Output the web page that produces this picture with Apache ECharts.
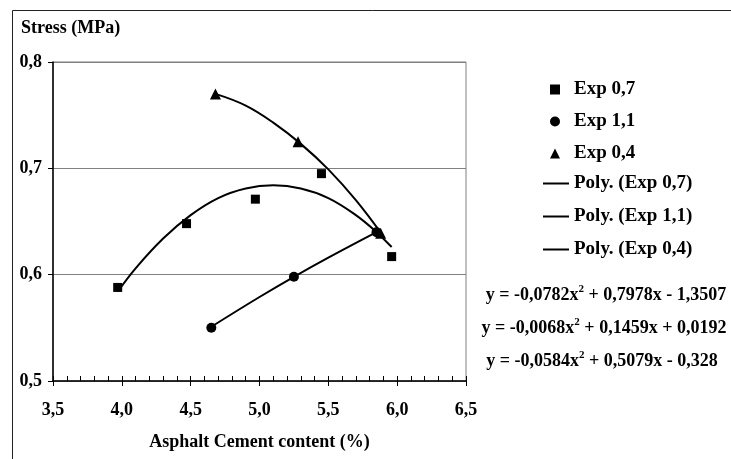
<!DOCTYPE html>
<html>
<head>
<meta charset="utf-8">
<script src="https://cdn.jsdelivr.net/npm/echarts@6/dist/echarts.min.js"></script>
<style>html,body{margin:0;padding:0;background:#fff}#c{width:731px;height:459px}</style>
</head>
<body>
<div id="c"></div>
<script>
// Measured points
const exp07X = [3.97, 4.47, 4.97, 5.45, 5.96];
const exp07Y = [0.588, 0.648, 0.671, 0.695, 0.617];
const exp11X = [4.65, 5.25, 5.85];
const exp11Y = [0.550, 0.598, 0.640];
const exp04X = [4.68, 5.28, 5.88];
const exp04Y = [0.770, 0.725, 0.639];
// Trendline points
const poly07X = [3.97, 4.1, 4.3, 4.5, 4.7, 4.9, 5.1, 5.3, 5.5, 5.7, 5.85, 5.96];
const poly07Y = [0.584, 0.606, 0.634, 0.656, 0.672, 0.681, 0.684, 0.681, 0.672, 0.656, 0.640, 0.626];
const poly11X = [4.65, 5.0, 5.25, 5.5, 5.85];
const poly11Y = [0.551, 0.579, 0.598, 0.616, 0.640];
const poly04X = [4.68, 4.9, 5.1, 5.3, 5.5, 5.7, 5.9];
const poly04Y = [0.770, 0.759, 0.743, 0.723, 0.699, 0.670, 0.636];
// Texts
const seriesNames = ['Exp 0,7', 'Exp 1,1', 'Exp 0,4', 'Poly. (Exp 0,7)', 'Poly. (Exp 1,1)', 'Poly. (Exp 0,4)'];
const equations = [
  ['y = -0,0782x', ' + 0,7978x - 1,3507'],
  ['y = -0,0068x', ' + 0,1459x + 0,0192'],
  ['y = -0,0584x', ' + 0,5079x - 0,328']
];
const xTitle = 'Asphalt Cement content (%)';
const yTitle = 'Stress (MPa)';

const F = 'Liberation Serif';
const zip = (xs, ys) => xs.map((x, i) => [x, ys[i]]);
const comma = (v) => v.toFixed(1).replace('.', ',');

const eqX = [606, 604, 602];
const eqY = [295, 328, 361];
const richStyle = {
  a: {fontSize: 18, fontFamily: F, fontWeight: 'bold', fill: '#000', lineHeight: 22},
  b: {fontSize: 11, fontFamily: F, fontWeight: 'bold', fill: '#000', lineHeight: 12, verticalAlign: 'top'}
};
const lblStyle = {fontFamily: F, fontWeight: 'bold', fontSize: 18, color: '#000'};

const chart = echarts.init(document.getElementById('c'), null, {renderer: 'canvas'});
chart.setOption({
  animation: false,
  backgroundColor: '#fff',
  title: {
    text: yTitle, left: 21, top: 19, padding: 0,
    textStyle: lblStyle
  },
  grid: {left: 53, right: 265, top: 62, bottom: 78, show: true, borderColor: '#808080', borderWidth: 1, backgroundColor: 'transparent'},
  legend: [
    {
      data: seriesNames.slice(0, 3), orient: 'vertical', left: 550, top: 80,
      itemWidth: 10, itemHeight: 10, itemGap: 13, padding: 0,
      itemStyle: {opacity: 1},
      textStyle: {fontFamily: F, fontWeight: 'bold', fontSize: 19, color: '#000', lineHeight: 18, padding: [0, 0, 0, 9]}
    },
    {
      data: seriesNames.slice(3), orient: 'vertical', left: 543, top: 174,
      icon: 'rect', itemWidth: 26, itemHeight: 2, itemGap: 14, padding: 0,
      textStyle: {fontFamily: F, fontWeight: 'bold', fontSize: 19, color: '#000', lineHeight: 18}
    }
  ],
  xAxis: [
    {
      type: 'value', min: 3.5, max: 6.5, interval: 0.5,
      name: xTitle, nameLocation: 'middle', nameGap: 52,
      nameTextStyle: lblStyle,
      axisLine: {show: true, onZero: false, lineStyle: {color: '#000', width: 1.5}},
      axisTick: {show: true, inside: true, length: 5, lineStyle: {color: '#000'}},
      minorTick: {show: true, splitNumber: 5, length: 5, lineStyle: {color: '#000'}},
      axisLabel: Object.assign({margin: 20, formatter: comma}, lblStyle),
      splitLine: {show: false}
    },
    {
      type: 'value', min: 3.5, max: 6.5, interval: 0.5, position: 'bottom',
      axisLine: {show: false},
      axisTick: {show: true, inside: false, length: 5, lineStyle: {color: '#000'}},
      axisLabel: {show: false},
      splitLine: {show: false}
    }
  ],
  yAxis: {
    type: 'value', min: 0.5, max: 0.8, interval: 0.1,
    axisLine: {show: true, lineStyle: {color: '#000', width: 1.5}},
    axisTick: {show: true, inside: false, length: 5, lineStyle: {color: '#000'}},
    axisLabel: Object.assign({margin: 11, formatter: comma}, lblStyle),
    splitLine: {show: true, lineStyle: {color: '#808080', width: 1}}
  },
  graphic: [
    {type: 'rect', silent: true, shape: {x: 12.5, y: 10.5, width: 800, height: 500}, style: {fill: 'none', stroke: '#222', lineWidth: 1}}
  ].concat(equations.map((e, i) => ({
    type: 'text', x: eqX[i], y: eqY[i], silent: true,
    style: {text: '{a|' + e[0] + '}{b|2}{a|' + e[1] + '}', rich: richStyle, align: 'center', verticalAlign: 'middle'}
  }))),
  series: [
    {name: seriesNames[3], type: 'line', data: zip(poly07X, poly07Y), smooth: 0.4, symbol: 'none', z: 2,
     lineStyle: {color: '#000', width: 2}, itemStyle: {color: '#000'}},
    {name: seriesNames[4], type: 'line', data: zip(poly11X, poly11Y), smooth: 0.4, symbol: 'none', z: 2,
     lineStyle: {color: '#000', width: 2}, itemStyle: {color: '#000'}},
    {name: seriesNames[5], type: 'line', data: zip(poly04X, poly04Y), smooth: 0.4, symbol: 'none', z: 2,
     lineStyle: {color: '#000', width: 2}, itemStyle: {color: '#000'}},
    {name: seriesNames[0], type: 'scatter', data: zip(exp07X, exp07Y), symbol: 'rect', symbolSize: 9, z: 3, itemStyle: {color: '#000', opacity: 1}},
    {name: seriesNames[1], type: 'scatter', data: zip(exp11X, exp11Y), symbol: 'circle', symbolSize: 10, z: 3, itemStyle: {color: '#000', opacity: 1}},
    {name: seriesNames[2], type: 'scatter', data: zip(exp04X, exp04Y), symbol: 'triangle', symbolSize: 11, z: 3, itemStyle: {color: '#000', opacity: 1}}
  ]
});
</script>
</body>
</html>
